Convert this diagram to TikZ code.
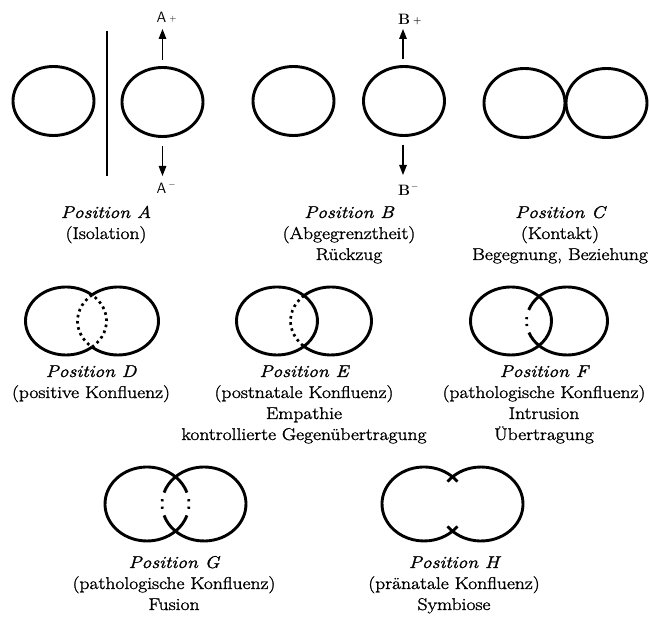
\documentclass[tikz,border=0pt]{standalone}
\usepackage{fontspec}
\newfontfamily\lblfont{Latin Modern Roman}[FakeBold=1.5,FakeStretch=1.15]
\usetikzlibrary{arrows.meta,shapes.geometric}

% arc of an ellipse centred at (#2,\ey) with radii \erx,\ery, from angle #3 to #4
\newcommand\earc[4][]{%
  \pgfmathsetmacro\eaS{#3}\pgfmathsetmacro\eaE{#4}%
  \pgfmathsetmacro\eaX{#2+\erx*cos(\eaS)}%
  \pgfmathsetmacro\eaY{\ey+\ery*sin(\eaS)}%
  \draw[ring,#1] (\eaX,\eaY) arc[start angle=\eaS,end angle=\eaE,x radius=\erx,y radius=\ery];}
% half-angle of the overlap for two ellipses centred at #1 and #2
\newcommand\setoverlap[2]{\pgfmathsetmacro\tz{acos((#2-#1)/(2*\erx))}}

\begin{document}
\begin{tikzpicture}[x=1pt,y=1pt,
  ring/.style={line width=2.9pt},
  oval/.style={draw,ellipse,line width=2.9pt,inner sep=0pt,
               minimum width=81pt,minimum height=69pt},
  dotline/.style={line width=2.7pt,dash pattern=on 2.6pt off 3.6pt},
  updown/.style={line width=1.4pt,-{Triangle[length=10pt,width=7.5pt]}},
  txt/.style={inner sep=0pt,anchor=base,font=\lblfont\fontsize{17}{20}\selectfont},
  postxt/.style={txt,font=\lblfont\fontsize{17}{20}\selectfont\itshape},
  pole/.style={inner sep=0pt,anchor=base west,font=\fontsize{15}{17}\selectfont},
]
\useasboundingbox (0,0) rectangle (649,618);

% ---------------- Position A ----------------
\node[oval] (a1) at (53.5,517) {};
\node[oval] (a2) at (162.5,516) {};
\coordinate (sepTop) at (107,587);
\coordinate (sepBot) at (107,442);
\draw[line width=2.2pt] (sepTop) -- (sepBot);
\coordinate (aUp) at (162.5,589);
\coordinate (aDown) at (162.5,442);
\draw[updown] ([yshift=6pt]a2.north) -- (aUp);
\draw[updown] ([yshift=-8pt]a2.south) -- (aDown);
\node[pole] (aplus) at (156.5,595) {\sffamily A\hspace{3pt}\raisebox{1.5pt}{\small +}};
\node[pole] (aminus) at (156.5,424) {\sffamily A\hspace{2pt}\raisebox{6pt}{\small $-$}};

% ---------------- Position B ----------------
\node[oval] (b1) at (293.5,517) {};
\node[oval] (b2) at (404,517) {};
\coordinate (bUp) at (403,589);
\coordinate (bDown) at (403,443);
\draw[updown] (b2.north -| bUp) ++(0,6) -- (bUp);
\draw[updown] (b2.south -| bDown) ++(0,-8) -- (bDown);
\node[pole] (bplus) at (398,593) {\bfseries B\hspace{3pt}\raisebox{1.5pt}{\small +}};
\node[pole] (bminus) at (398,422) {\bfseries B\hspace{1pt}\raisebox{6pt}{\small $-$}};

% ---------------- Position C ----------------
\node[oval] (c1) at (524.5,515) {};
\node[oval] (c2) at (606.5,515) {};

% labels, first row
\node[postxt] (tA1) at (106,400) {Position A};
\node[txt]    (tA2) at (106,379) {(Isolation)};
\node[postxt] (tB1) at (349,400) {Position B};
\node[txt]    (tB2) at (349,379) {(Abgegrenztheit)};
\node[txt]    (tB3) at (349,358) {Rückzug};
\node[postxt] (tC1) at (560,400) {Position C};
\node[txt]    (tC2) at (560,379) {(Kontakt)};
\node[txt]    (tC3) at (560,358) {Begegnung, Beziehung};

% ---------------- second row ----------------
\def\ey{297}\def\erx{40.5}\def\ery{34}
% Position D: both inner arcs dotted
\def\ca{66}\def\cb{118}\setoverlap{\ca}{\cb}
\earc{\ca}{\tz}{360-\tz}
\earc{\cb}{\tz-180}{180-\tz}
\earc[dotline]{\ca}{-\tz}{\tz}
\earc[dotline]{\cb}{180-\tz}{180+\tz}
% Position E: the right ring's inner arc dotted
\def\ca{277}\def\cb{331}\setoverlap{\ca}{\cb}
\earc{\ca}{\tz}{360-\tz}
\earc{\cb}{\tz-180}{180-\tz}
\earc{\ca}{-\tz}{\tz}
\earc[dotline]{\cb}{180-\tz}{180+\tz}
% Position F: the right ring's inner arc broken in the middle
\def\ca{511}\def\cb{567}\setoverlap{\ca}{\cb}
\earc{\ca}{\tz}{360-\tz}
\earc{\cb}{\tz-180}{180-\tz}
\earc{\ca}{-\tz}{\tz}
\earc{\cb}{180-\tz}{161}
\earc[line width=2.7pt]{\cb}{173.5}{177}
\earc[line width=2.7pt]{\cb}{185}{188.5}
\earc{\cb}{200}{180+\tz}

\node[postxt] (tD1) at (91,241) {Position D};
\node[txt]    (tD2) at (91,220) {(positive Konfluenz)};
\node[postxt] (tE1) at (304,241) {Position E};
\node[txt]    (tE2) at (304,220) {(postnatale Konfluenz)};
\node[txt]    (tE3) at (304,199) {Empathie};
\node[txt]    (tE4) at (304,178) {kontrollierte Gegenübertragung};
\node[postxt] (tF1) at (544,241) {Position F};
\node[txt]    (tF2) at (544,220) {(pathologische Konfluenz)};
\node[txt]    (tF3) at (544,199) {Intrusion};
\node[txt]    (tF4) at (544,178) {Übertragung};

% ---------------- third row ----------------
\def\ey{114}\def\erx{42}\def\ery{37}
% Position G: both inner arcs broken in the middle
\def\ca{147}\def\cb{204}\setoverlap{\ca}{\cb}
\earc{\ca}{\tz}{360-\tz}
\earc{\cb}{\tz-180}{180-\tz}
\earc{\cb}{180-\tz}{162}
\earc[line width=2.7pt]{\cb}{172.5}{176}
\earc[line width=2.7pt]{\cb}{184}{187.5}
\earc{\cb}{198}{180+\tz}
\earc{\ca}{-\tz}{-18}
\earc[line width=2.7pt]{\ca}{-7.5}{-4}
\earc[line width=2.7pt]{\ca}{4}{7.5}
\earc{\ca}{18}{\tz}
% Position H: outer outline with short crossing stubs
\def\ca{424}\def\cb{481}\setoverlap{\ca}{\cb}
\earc{\ca}{\tz-10}{370-\tz}
\earc{\cb}{\tz-190}{190-\tz}

\node[postxt] (tG1) at (174,50) {Position G};
\node[txt]    (tG2) at (174,29) {(pathologische Konfluenz)};
\node[txt]    (tG3) at (174,8)  {Fusion};
\node[postxt] (tH1) at (454,50) {Position H};
\node[txt]    (tH2) at (454,29) {(pränatale Konfluenz)};
\node[txt]    (tH3) at (454,8)  {Symbiose};
\end{tikzpicture}
\end{document}
